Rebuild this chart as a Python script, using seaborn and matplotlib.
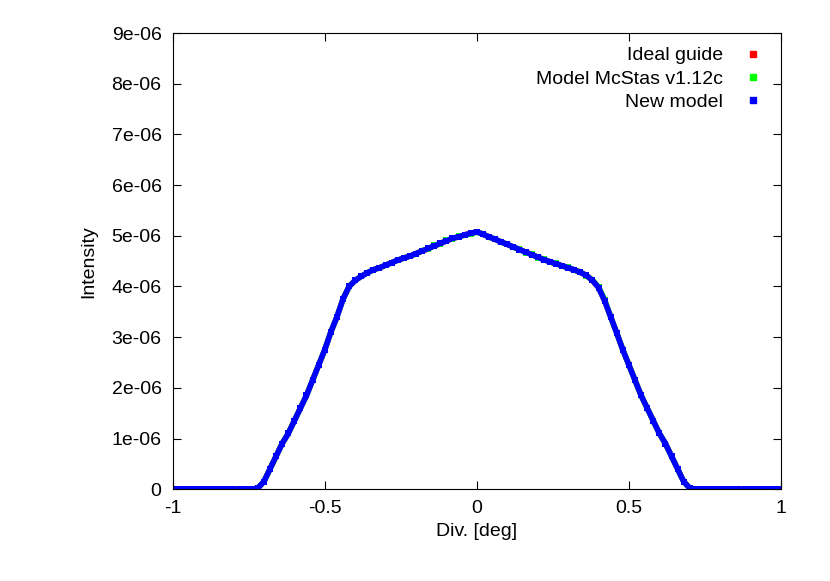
import matplotlib
matplotlib.use("Agg")
import matplotlib.pyplot as plt
from matplotlib.lines import Line2D
import seaborn as sns
import pandas as pd

x = [round(-1 + 0.02 * i, 2) for i in range(101)]
left = [0]*14 + [0.02,0.15,0.4,0.65,0.9,1.1,1.35,1.6,1.85,2.15,2.45,2.75,3.1,3.4,3.75,4.0,4.12,4.2,4.27,4.33,4.37,4.42,4.47,4.52,4.56,4.6,4.65,4.7,4.75,4.8,4.85,4.9,4.95,4.98,5.02,5.05,5.08]
right = [5.03,4.98,4.93,4.88,4.83,4.78,4.73,4.68,4.63,4.58,4.53,4.49,4.45,4.41,4.37,4.33,4.28,4.22,4.12,3.98,3.72,3.4,3.08,2.75,2.45,2.15,1.85,1.6,1.35,1.1,0.9,0.65,0.4,0.15,0.02] + [0]*15
mc_mid = [4.64,4.71,4.74,4.81,4.84,4.91,4.94,4.99,5.01,5.04,5.07,
          5.04,4.97,4.94,4.87,4.84,4.77,4.74,4.67,4.64,4.57,4.54,4.48,4.46,4.40,4.38,4.32,4.29,4.21,4.13,3.99,3.74]
ideal = [v*1e-6 for v in left + right]
mcstas = [v*1e-6 for v in left[:40] + mc_mid + right[21:]]
newmodel = [v*1e-6 for v in left + right]

series = ["Ideal guide", "Model McStas v1.12c", "New model"]
colors = ["#ff0000", "#00ff00", "#0000ff"]
yticks = [0,1e-6,2e-6,3e-6,4e-6,5e-6,6e-6,7e-6,8e-6,9e-6]
ylabels = ["0","1e-06","2e-06","3e-06","4e-06","5e-06","6e-06","7e-06","8e-06","9e-06"]
xticks = [-1,-0.5,0,0.5,1]
xlabels = ["-1","-0.5","0","0.5","1"]

plt.rcParams["font.family"] = "Liberation Sans"
fig = plt.figure(figsize=(8.3, 5.81), dpi=100)
ax = fig.add_axes([0.208, 0.158, 0.733, 0.785])
for name, ys, c in zip(series, [ideal, mcstas, newmodel], colors):
    df = pd.DataFrame({"x": x, "y": ys})
    sns.lineplot(data=df, x="x", y="y", ax=ax, color=c, lw=4, marker="s",
                 markersize=5, markeredgewidth=0, label=name)
ax.set_xlim(-1, 1)
ax.set_ylim(0, 9e-6)
ax.set_xticks(xticks, xlabels)
ax.set_yticks(yticks, ylabels)
ax.tick_params(direction="in", top=True, right=True, labelsize=14, length=6, pad=8)
ax.set_xlabel("Div. [deg]", fontsize=14)
ax.set_ylabel("Intensity", fontsize=14, labelpad=10)
h, l = ax.get_legend_handles_labels()
h = [Line2D([], [], color=c, marker="s", ls="none", markersize=5) for c in colors]
ax.legend(h, l, loc="upper right", frameon=False, markerfirst=False, fontsize=14,
          handlelength=1.5, borderaxespad=0.3, labelspacing=0.3)
fig.savefig("out.png", dpi=100)
